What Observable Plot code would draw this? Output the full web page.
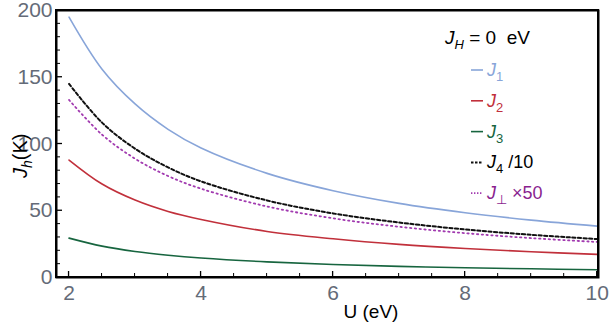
<!DOCTYPE html>
<html><head><meta charset="utf-8">
<script src="https://cdn.jsdelivr.net/npm/d3@7"></script>
<script src="https://cdn.jsdelivr.net/npm/@observablehq/plot@0.6"></script>
<style>body{margin:0;background:#fff} svg{display:block} #wrap{position:relative;width:610px;height:323px} #over{position:absolute;left:0;top:0}</style>
</head><body><div id="wrap"><div id="chart"></div><svg id="over" width="610" height="323"></svg></div>
<script>
// U (eV) sample points and curves
const U   = [2, 2.5, 3, 3.5, 4, 5, 6, 7, 8, 9, 10];
const J1  = [195, 156, 130, 111, 97, 78, 65, 55.5, 48.5, 43, 38.5];
const J2  = [88, 70, 58, 49.5, 43.5, 34.5, 29, 24.8, 21.7, 19.3, 17.3];
const J3  = [29.5, 23.5, 19.5, 16.7, 14.6, 11.7, 9.7, 8.3, 7.3, 6.5, 5.8];
const J4  = [145, 116, 96.5, 82.5, 72, 57.7, 48, 41.2, 36, 32, 28.8];   // J4/10
const Jp  = [133, 107, 89, 76, 66.5, 53.2, 44.3, 38, 33.2, 29.5, 26.6]; // Jperp*50
const seriesNames = ["J1", "J2", "J3", "J4", "Jp"];
const seriesVals  = [J1, J2, J3, J4, Jp];
const xTicks = [2, 4, 6, 8, 10];
const yTicks = [0, 50, 100, 150, 200];
const xMinor = [2.5, 3, 3.5, 4.5, 5, 5.5, 6.5, 7, 7.5, 8.5, 9, 9.5];
const yMinor = [10, 20, 30, 40, 60, 70, 80, 90, 110, 120, 130, 140, 160, 170, 180, 190];

const colors = {J1: "#88a5d9", J2: "#c1303b", J3: "#17653f", J4: "#101010", Jp: "#a23bb0"};
const dashes = {J1: null, J2: null, J3: null, J4: "3.2,2.4", Jp: "1.4,3.4"};
const widths = {J1: 1.6, J2: 1.6, J3: 1.6, J4: 2, Jp: 1.8};

const rows = [];
seriesNames.forEach((s, i) => U.forEach((u, j) => rows.push({U: u, v: seriesVals[i][j], s})));

const font = "'Liberation Sans', Arial, sans-serif";
const tickColor = "#646b78";

const plot = Plot.plot({
  width: 610, height: 323,
  marginLeft: 56, marginRight: 12, marginTop: 10, marginBottom: 46,
  style: {fontFamily: font},
  x: {domain: [1.81, 10.02]},
  y: {domain: [0, 200]},
  marks: [
    ...seriesNames.map(s => Plot.line(rows.filter(r => r.s === s), {
      x: "U", y: "v", stroke: colors[s], strokeWidth: widths[s],
      strokeDasharray: dashes[s], curve: "catmull-rom"
    })),
    Plot.axisX({ticks: xTicks, tickSize: 0, tickPadding: 8, fontSize: 21, fill: tickColor, label: null}),
    Plot.axisY({ticks: yTicks, tickSize: 0, tickPadding: 4, fontSize: 21, fill: tickColor, label: null}),
    Plot.frame({stroke: "black", strokeWidth: 2})
  ]
});
document.getElementById("chart").appendChild(plot);

const sx = plot.scale("x"), sy = plot.scale("y");
const [x0, x1] = sx.range, [y0, y1] = sy.range; // y0 bottom, y1 top
const over = d3.select("#over");
const g = over.append("g").attr("font-family", font).attr("text-anchor", "start");

// frame and inward ticks drawn as filled bars, positioned through the plot's scales
const fg = g.append("g").attr("fill", "#000");
fg.append("rect").attr("x", x0 - 1).attr("y", y1 - 1).attr("width", x1 - x0 + 2).attr("height", 2);
fg.append("rect").attr("x", x0 - 1).attr("y", y0 - 1).attr("width", x1 - x0 + 2).attr("height", 2);
fg.append("rect").attr("x", x0 - 1).attr("y", y1 - 1).attr("width", 2).attr("height", y0 - y1 + 2);
fg.append("rect").attr("x", x1 - 1).attr("y", y1 - 1).attr("width", 2).attr("height", y0 - y1 + 2);
xTicks.forEach(v => fg.append("rect").attr("x", sx.apply(v) - 0.65).attr("y", y0 - 6).attr("width", 1.3).attr("height", 6));
xMinor.forEach(v => fg.append("rect").attr("x", sx.apply(v) - 0.5).attr("y", y0 - 4).attr("width", 1).attr("height", 4));
yTicks.forEach(v => fg.append("rect").attr("x", x0).attr("y", sy.apply(v) - 0.65).attr("width", 6).attr("height", 1.3));
yMinor.forEach(v => fg.append("rect").attr("x", x0).attr("y", sy.apply(v) - 0.5).attr("width", 4).attr("height", 1));

// axis labels
const yl = g.append("text").attr("transform", "translate(27,178) rotate(-90)")
  .attr("font-size", 20).attr("fill", "black");
yl.append("tspan").attr("font-style", "italic").text("J");
yl.append("tspan").attr("font-style", "italic").attr("font-size", 14).attr("dy", 5).text("h");
yl.append("tspan").attr("dy", -5).text("(K)");

g.append("text").attr("x", 371).attr("y", 318).attr("text-anchor", "middle")
  .attr("font-size", 19).attr("fill", "black").text("U (eV)");

// legend header
const hd = g.append("text").attr("x", 445).attr("y", 44).attr("font-size", 19).attr("fill", "black");
hd.append("tspan").attr("font-style", "italic").text("J");
hd.append("tspan").attr("font-style", "italic").attr("font-size", 13).attr("dy", 5).text("H");
hd.append("tspan").attr("dy", -5).text("\u00a0= 0\u00a0\u00a0eV");

const legend = [
  {s: "J1", sub: "1", tail: "", col: "#88a5d9"},
  {s: "J2", sub: "2", tail: "", col: "#c1303b"},
  {s: "J3", sub: "3", tail: "", col: "#17653f"},
  {s: "J4", sub: "4", tail: " /10", col: "black"},
  {s: "Jp", sub: "\u22a5", tail: " \u00d750", col: "#8a1f8f"}
];
legend.forEach((d, i) => {
  const y = 70 + i * 30.8;
  g.append("line").attr("x1", 471).attr("x2", 483).attr("y1", y).attr("y2", y)
    .attr("stroke", colors[d.s]).attr("stroke-width", widths[d.s]).attr("stroke-dasharray", dashes[d.s] ? (d.s === "J4" ? "2.5,1.5" : "1.4,1.6") : null);
  const t = g.append("text").attr("x", 487).attr("y", y + 6).attr("font-size", 18).attr("fill", d.col);
  t.append("tspan").attr("font-style", "italic").text("J");
  t.append("tspan").attr("font-size", 13).attr("dy", 5).text(d.sub);
  if (d.tail) t.append("tspan").attr("dy", -5).text(d.tail);
});
</script></body></html>
